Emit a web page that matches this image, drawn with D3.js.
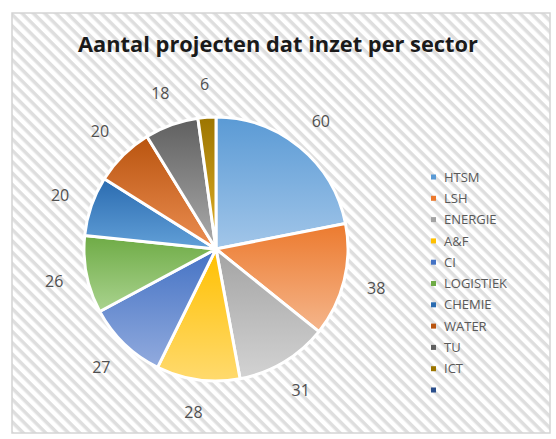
<!DOCTYPE html>
<html><head><meta charset="utf-8">
<script src="https://cdn.jsdelivr.net/npm/d3@7"></script>
<style>body{margin:0;background:#fff}svg{display:block}</style>
</head><body>
<svg id="c" width="556" height="439"></svg>
<script>
const title = "Aantal projecten dat inzet per sector";
const categories = ["HTSM","LSH","ENERGIE","A&F","CI","LOGISTIEK","CHEMIE","WATER","TU","ICT",""];
const values = [60,38,31,28,27,26,20,20,18,6,0];
const colorsTop = ["#5a9ad5","#ec7a2e","#a3a3a3","#ffc000","#4472c4","#6eab45","#2a6bb0","#b9540f","#5f5f5f","#9c7500","#2b4f8c"];
const colorsBottom = ["#a2c6e9","#f5b68c","#d3d3d3","#ffda6e","#92abde","#aad38f","#62a0d8","#ec8e52","#adadad","#e3b22a","#3a68b5"];

const svg = d3.select("#c");
const defs = svg.append("defs");
const pat = defs.append("pattern").attr("id","stripes").attr("patternUnits","userSpaceOnUse")
  .attr("width",8).attr("height",8).attr("patternTransform","rotate(45)");
pat.append("rect").attr("width",8).attr("height",8).attr("fill","#ffffff");
pat.append("rect").attr("width",8).attr("height",3.5).attr("fill","#dedede");

svg.append("rect").attr("x",12).attr("y",13).attr("width",538).attr("height",420)
  .attr("fill","url(#stripes)").attr("stroke","#d4d4d4").attr("stroke-width",1.5);

svg.append("text").attr("x",278).attr("y",52).attr("text-anchor","middle")
  .attr("font-family","'Open Sans', 'Liberation Sans', sans-serif").attr("font-weight","bold")
  .attr("font-size",21).attr("fill","#1a1a1a").attr("textLength",400).attr("lengthAdjust","spacingAndGlyphs")
  .text(title);

categories.forEach((c,i)=>{
  const g = defs.append("linearGradient").attr("id","g"+i).attr("x1",0).attr("y1",0).attr("x2",0).attr("y2",1);
  g.append("stop").attr("offset","0%").attr("stop-color",colorsTop[i]);
  g.append("stop").attr("offset","100%").attr("stop-color",colorsBottom[i]);
});

const cx = 216, cy = 249, r = 132;
const data = categories.map((c,i)=>({cat:c,val:values[i],i}));
const pie = d3.pie().value(d=>d.val).sort(null);
const arcs = pie(data);
const arc = d3.arc().innerRadius(0).outerRadius(r);
const labelArc = d3.arc().innerRadius(r*1.25).outerRadius(r*1.25);
const gp = svg.append("g").attr("transform",`translate(${cx},${cy})`);
gp.selectAll("path").data(arcs.filter(d=>d.data.val>0)).join("path")
  .attr("d",arc).attr("fill",d=>`url(#g${d.data.i})`)
  .attr("stroke","#fff").attr("stroke-width",3).attr("stroke-linejoin","round");
gp.selectAll("text").data(arcs.filter(d=>d.data.val>0)).join("text")
  .attr("transform",d=>`translate(${labelArc.centroid(d)})`)
  .attr("text-anchor","middle").attr("dy","0.35em")
  .attr("font-family","'Open Sans', 'Liberation Sans', sans-serif").attr("font-size",16)
  .attr("fill","#505050").text(d=>d.data.val);

const leg = svg.append("g");
const ly = d3.scaleLinear().domain([0,10]).range([177,390]);
categories.forEach((c,i)=>{
  leg.append("rect").attr("x",431).attr("y",ly(i)-2.5).attr("width",5).attr("height",5).attr("fill",colorsTop[i]);
  leg.append("text").attr("x",444).attr("y",ly(i)).attr("dy","0.36em")
    .attr("font-family","'Open Sans', 'Liberation Sans', sans-serif").attr("font-size",13)
    .attr("fill","#595959").text(c);
});
</script>
</body></html>
